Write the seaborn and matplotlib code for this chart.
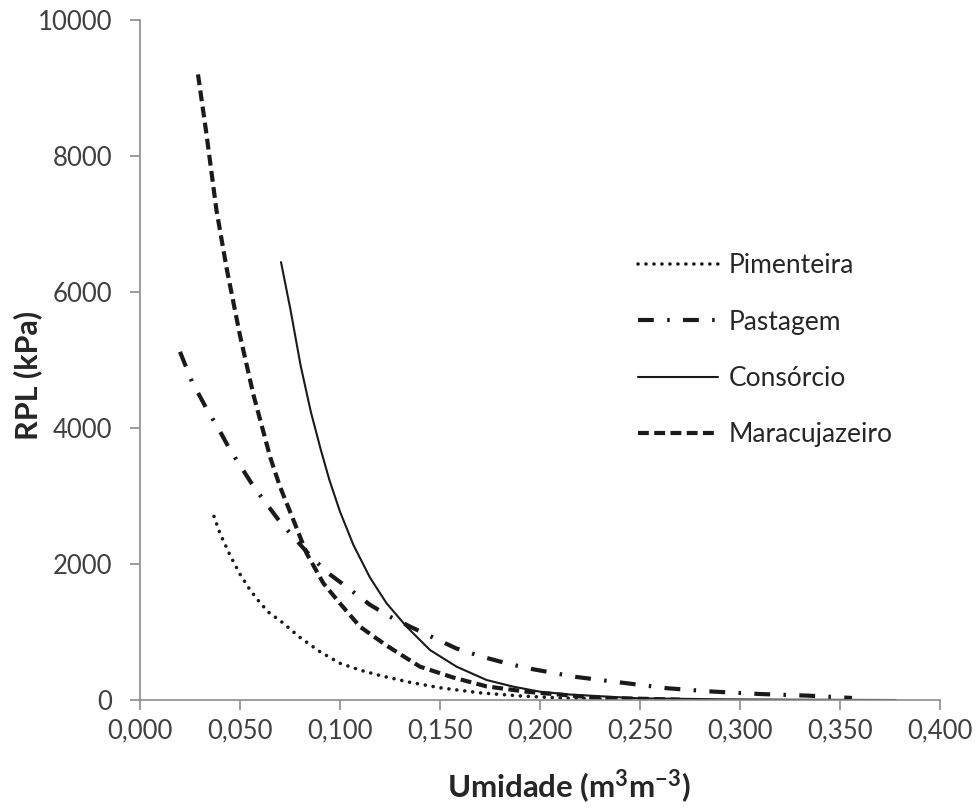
import numpy as np
import pandas as pd
import matplotlib
matplotlib.use("Agg")
import matplotlib.pyplot as plt
import seaborn as sns

# values (umidade m3/m3 -> RPL kPa)
pimenteira_x = [0.037, 0.040, 0.045, 0.050, 0.055, 0.060, 0.065, 0.070, 0.080, 0.090,
                0.100, 0.110, 0.120, 0.135, 0.150, 0.170, 0.190, 0.210, 0.240]
pimenteira_y = [2700, 2450, 2130, 1850, 1620, 1430, 1270, 1170, 920, 710,
                540, 440, 360, 260, 180, 105, 60, 30, 8]

pastagem_x = [0.020, 0.026, 0.033, 0.040, 0.045, 0.057, 0.070, 0.083, 0.093, 0.103,
              0.115, 0.125, 0.135, 0.145, 0.158, 0.171, 0.182, 0.194, 0.217, 0.241,
              0.264, 0.287, 0.310, 0.334, 0.356]
pastagem_y = [5120, 4680, 4300, 3950, 3680, 3130, 2620, 2190, 1890, 1670,
              1400, 1225, 1080, 940, 760, 637, 550, 466, 343, 255,
              172, 123, 88, 64, 30]

consorcio_x = [0.0705, 0.0753, 0.0803, 0.0854, 0.0904, 0.0947, 0.100, 0.1067, 0.115, 0.1233,
               0.1333, 0.145, 0.1583, 0.1733, 0.1867, 0.200, 0.215, 0.249, 0.291, 0.330, 0.378]
consorcio_y = [6440, 5730, 4920, 4240, 3680, 3235, 2770, 2280, 1800, 1422,
               1078, 735, 490, 294, 196, 122, 80, 25, 10, 4, 0]

maracujazeiro_x = [0.029, 0.0332, 0.0382, 0.0433, 0.050, 0.0567, 0.0652, 0.070, 0.0767, 0.0833,
                   0.0917, 0.100, 0.110, 0.1233, 0.140, 0.1567, 0.1733, 0.1933, 0.2025, 0.228, 0.270]
maracujazeiro_y = [9200, 8330, 7210, 6350, 5360, 4490, 3560, 3137, 2647, 2157,
                   1716, 1420, 1078, 800, 490, 330, 200, 122, 98, 34, 5]

series_names = ["Pimenteira", "Pastagem", "Consórcio", "Maracujazeiro"]
xtick_vals = [0.0, 0.05, 0.10, 0.15, 0.20, 0.25, 0.30, 0.35, 0.40]
xtick_labels = ["0,000", "0,050", "0,100", "0,150", "0,200", "0,250", "0,300", "0,350", "0,400"]
ytick_vals = [0, 2000, 4000, 6000, 8000, 10000]

frames = []
for name, xs, ys in zip(series_names,
                        [pimenteira_x, pastagem_x, consorcio_x, maracujazeiro_x],
                        [pimenteira_y, pastagem_y, consorcio_y, maracujazeiro_y]):
    frames.append(pd.DataFrame(dict(umidade=xs, rpl=ys, tratamento=name)))
data = pd.concat(frames, axis=0)

sns.set_style("white")
sns.set_style("ticks")
plt.rcParams["font.family"] = ["Lato", "DejaVu Sans"]
plt.rcParams["mathtext.fontset"] = "custom"
plt.rcParams["mathtext.rm"] = "Lato"
plt.rcParams["mathtext.bf"] = "Lato:bold"
plt.rcParams["mathtext.default"] = "bf"

styles = {
    "Pimenteira": dict(lw=2.6, dashes=(0.01, 2.2), dash_capstyle="round"),
    "Pastagem": dict(lw=3.0, dashes=(3.8, 3.2, 0.6, 3.2)),
    "Consórcio": dict(lw=1.5),
    "Maracujazeiro": dict(lw=3.0, dashes=(2.6, 1.3)),
}

fig = plt.figure(figsize=(9.76, 8.08), dpi=100)
ax = fig.add_axes([140 / 976, 1 - 700 / 808, 800 / 976, 680 / 808])

for name in series_names:
    sub = data[data.tratamento == name]
    st = dict(styles[name])
    dashes = st.pop("dashes", None)
    line_ax = sns.lineplot(data=sub, x="umidade", y="rpl", ax=ax, color="#1a1a1a",
                           estimator=None, sort=False, label=name, **st)
    if dashes is not None:
        line_ax.lines[-1].set_dashes(dashes)

ax.set_xlim(0, 0.4)
ax.set_ylim(0, 10000)
ax.set_xticks(xtick_vals)
ax.set_xticklabels(xtick_labels)
ax.set_yticks(ytick_vals)
ax.set_yticklabels([str(v) for v in ytick_vals])

sns.despine(ax=ax)
for side in ["left", "bottom"]:
    ax.spines[side].set_color("#8c8c8c")
    ax.spines[side].set_linewidth(1.2)
ax.tick_params(axis="both", colors="#8c8c8c", width=1.2, length=7, labelsize=18.5,
               labelcolor="#404040")
ax.tick_params(axis="x", pad=6)
ax.tick_params(axis="y", pad=13)

ax.set_xlabel(r"Umidade (m$^{3}$m$^{-3}$)", fontsize=22.5, fontweight="bold", color="#262626")
ax.set_ylabel("RPL (kPa)", fontsize=22, fontweight="bold", color="#262626")
ax.xaxis.set_label_coords(0.536, -0.1)
ax.yaxis.set_label_coords(-0.122, 0.477)

leg = ax.legend(loc="upper left", bbox_to_anchor=(0.6225, 0.657), frameon=False,
                fontsize=19, handlelength=3.05, handletextpad=0.4, labelspacing=1.19,
                borderpad=0, borderaxespad=0)
for t in leg.get_texts():
    t.set_color("#262626")

fig.savefig("out.png", dpi=100)
